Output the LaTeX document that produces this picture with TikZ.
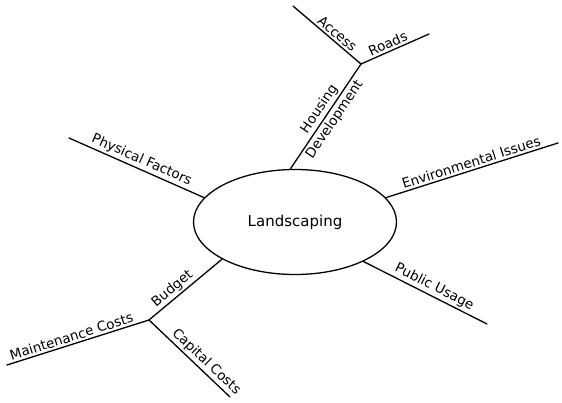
\documentclass[tikz,border=0pt]{standalone}
\usepackage{fontspec}
\setmainfont{DejaVu Sans}
\usetikzlibrary{shapes.geometric}
\begin{document}
\begin{tikzpicture}[x=1pt,y=1pt,
  branch/.style={line width=1.3pt, line cap=round},
  lbl/.style={sloped, above, inner sep=2pt, font=\fontsize{13.5}{15}\selectfont},
  lblb/.style={sloped, below, inner sep=2pt, font=\fontsize{13.5}{15}\selectfont}]
\useasboundingbox (0,0) rectangle (562,-403);

% central topic
\node[draw, ellipse, line width=1.3pt, minimum width=203pt, minimum height=105pt,
      inner sep=0pt, font=\fontsize{15}{17}\selectfont] (ell) at (295,-222) {Landscaping};

% branch ends and junctions
\coordinate (jh)  at (361,-64);
\coordinate (acc) at (293,-6);
\coordinate (rd)  at (429,-34);
\coordinate (pf)  at (69,-138);
\coordinate (env) at (558,-143);
\coordinate (pu)  at (487,-324);
\coordinate (jb)  at (149,-320);
\coordinate (mc)  at (7,-365);
\coordinate (cc)  at (230,-397);

% branches
\draw[branch] (ell.95) -- node[lbl,pos=0.52]{Housing} node[lblb,pos=0.52]{Development} (jh);
\draw[branch] (acc) -- node[lbl,pos=0.58]{Access} (jh);
\draw[branch] (jh) -- node[lbl,pos=0.44]{Roads} (rd);
\draw[branch] (pf) -- node[lbl,pos=0.51]{Physical Factors} (ell.165);
\draw[branch] (ell.15) -- node[lbl,pos=0.51]{Environmental Issues} (env);
\draw[branch] (ell.-30) -- node[lbl,pos=0.54]{Public Usage} (pu);
\draw[branch] (jb) -- node[lbl,pos=0.4]{Budget} (ell.207);
\draw[branch] (mc) -- node[lbl,pos=0.47]{Maintenance Costs} (jb);
\draw[branch] (jb) -- node[lbl,pos=0.63]{Capital Costs} (cc);
\end{tikzpicture}
\end{document}
